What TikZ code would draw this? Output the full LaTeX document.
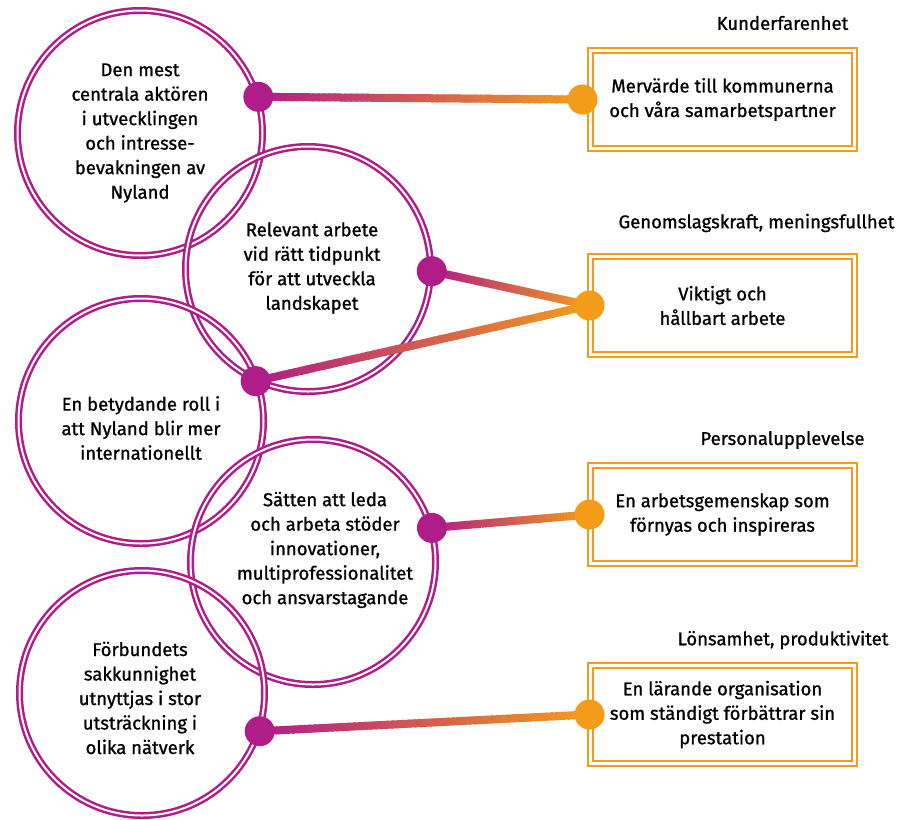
\documentclass[tikz,border=0pt]{standalone}
\usepackage{fontspec}
\IfFontExistsTF{FiraSans-Medium.otf}
  {\setmainfont{FiraSans-Medium.otf}}
  {\setmainfont{Fira Sans}[FakeBold=1]}
\usetikzlibrary{positioning,calc,shapes}
\definecolor{nyMag}{RGB}{176,28,136}
\definecolor{nyOrange}{RGB}{243,156,26}
\pgfdeclarelayer{back}
\pgfsetlayers{back,main}
\tikzstyle{ring}=[circle, draw=nyMag, line width=2.5pt, double=white, double distance=2pt, minimum size=245pt, inner sep=0pt]
\tikzstyle{goal}=[draw=nyOrange, line width=2pt, double=white, double distance=2.5pt, minimum width=264pt, minimum height=98pt, align=center]
\tikzstyle{ringtext}=[align=center, inner sep=0pt]
\tikzstyle{magdot}=[circle, fill=nyMag, minimum size=30pt, inner sep=0pt]
\tikzstyle{orgdot}=[circle, fill=nyOrange, minimum size=30pt, inner sep=0pt]
\newcommand\gradlink[2]{%
  \foreach \k in {0,...,59}{%
    \pgfmathtruncatemacro\mixpct{100-(\k+0.5)*100/60}
    \pgfmathsetmacro\fromfrac{\k/60}
    \pgfmathsetmacro\tofrac{(\k+1.4)/60}
    \draw[line width=8pt, nyMag!\mixpct!nyOrange] ($(#1)!\fromfrac!(#2)$) -- ($(#1)!\tofrac!(#2)$);
  }}

\begin{document}
\begin{tikzpicture}[x=1pt, y=-1pt, font=\fontsize{18.5}{24.5}\selectfont]
	\useasboundingbox (0,0) rectangle (909,819);
	\begin{pgfonlayer}{back}
	\node[ring] (ringCentral) at (140,133) {};
	\node[ring] (ringRelevant) at (308,269) {};
	\node[ring] (ringIntl) at (141,421) {};
	\node[ring] (ringLead) at (313,562) {};
	\node[ring] (ringExpert) at (142,693) {};
	\end{pgfonlayer}
	\node[ringtext] at (ringCentral.center) {Den mest\\centrala aktören\\i utvecklingen\\och intresse-\\bevakningen av\\Nyland};
	\node[ringtext] at ([shift={(4,-1)}]ringRelevant.center) {Relevant arbete\\vid rätt tidpunkt\\för att utveckla\\landskapet};
	\node[ringtext] at ([shift={(0,7)}]ringIntl.center) {En betydande roll i\\att Nyland blir mer\\internationellt};
	\node[ringtext] at ([shift={(12,-12)}]ringLead.center) {Sätten att leda\\och arbeta stöder\\innovationer,\\multiprofessionalitet\\och ansvarstagande};
	\node[ringtext] at ([shift={(-2,5)}]ringExpert.center) {Förbundets\\sakkunnighet\\utnyttjas i stor\\utsträckning i\\olika nätverk};

	\node[goal] (boxValue) at (722.5,99.5) {Mervärde till kommunerna\\och våra samarbetspartner};
	\node[goal] (boxWork) at (722.5,305.5) {Viktigt och\\hållbart arbete};
	\node[goal] (boxStaff) at (722.5,514.5) {En arbetsgemenskap som\\förnyas och inspireras};
	\node[goal] (boxLearn) at (722.5,714.5) {En lärande organisation\\som ständigt förbättrar sin\\prestation};

	\node at (782.5,23) {Kunderfarenhet};
	\node at (756.5,223) {Genomslagskraft, meningsfullhet};
	\node at (782.5,440) {Personalupplevelse};
	\node at (783,640) {Lönsamhet, produktivitet};

	\node[magdot] (dotCentral) at (ringCentral.17) {};
	\node[magdot] (dotRelevant) at (ringRelevant.-1) {};
	\node[magdot] (dotIntl) at (ringRelevant.-115) {};
	\node[magdot] (dotLead) at (ringLead.16) {};
	\node[magdot] (dotExpert) at (ringExpert.-18) {};
	\node[orgdot] (dotValue) at ([xshift=-7pt]boxValue.west) {};
	\node[orgdot] (dotWork) at (boxWork.west) {};
	\node[orgdot] (dotStaff) at (boxStaff.west) {};
	\node[orgdot] (dotLearn) at (boxLearn.west) {};

	\begin{pgfonlayer}{back}
	\gradlink{dotCentral}{dotValue}
	\gradlink{dotRelevant}{dotWork}
	\gradlink{dotIntl}{dotWork}
	\gradlink{dotLead}{dotStaff}
	\gradlink{dotExpert}{dotLearn}
	\end{pgfonlayer}
\end{tikzpicture}
\end{document}
